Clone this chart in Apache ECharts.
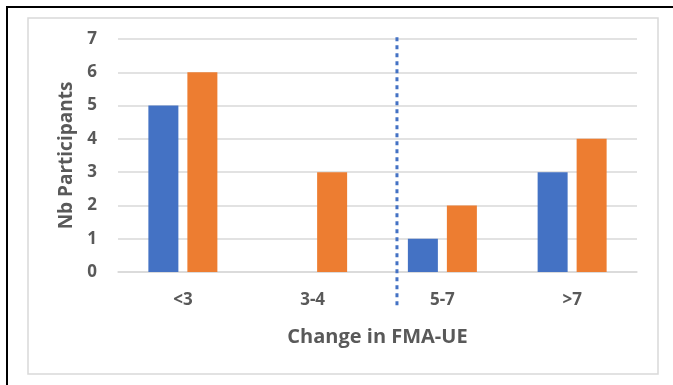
<!DOCTYPE html>
<html>
<head>
<meta charset="utf-8">
<script src="https://cdn.jsdelivr.net/npm/echarts@6/dist/echarts.min.js"></script>
<style>
  html, body { margin: 0; padding: 0; background: #fff; }
  #chart { width: 673px; height: 385px; }
</style>
</head>
<body>
<div id="chart"></div>
<script>
// Change in FMA-UE categories and participant counts
const categories = ['<3', '3-4', '5-7', '>7'];
const seriesA = [5, 0, 1, 3];
const seriesB = [6, 3, 2, 4];
const yTicks = { min: 0, max: 7, interval: 1 };
// Vertical dotted separator, in category-position units (0..4 across the axis)
const separatorX = 2.15;
const separatorY = [-1, 7.1];

const font = '"Open Sans", "Liberation Sans", sans-serif';
const textGrey = '#595959';

const chart = echarts.init(document.getElementById('chart'), null, { renderer: 'canvas' });
chart.setOption({
  backgroundColor: '#ffffff',
  animation: false,
  graphic: [
    { type: 'rect', shape: { x: 7, y: 7, width: 720, height: 420 },
      style: { fill: 'none', stroke: '#000', lineWidth: 2 }, silent: true },
    { type: 'rect', shape: { x: 28, y: 18, width: 630, height: 356 },
      style: { fill: 'none', stroke: '#d9d9d9', lineWidth: 1.5 }, silent: true }
  ],
  grid: { left: 118, right: 36, top: 39, bottom: 113 },
  xAxis: [
    {
      type: 'category',
      data: categories,
      axisTick: { show: false },
      axisLine: { lineStyle: { color: '#d9d9d9', width: 1.5 } },
      axisLabel: { color: textGrey, fontFamily: font, fontWeight: 'bold', fontSize: 17, margin: 20 },
      name: 'Change in FMA-UE',
      nameLocation: 'middle',
      nameGap: 55,
      nameTextStyle: { color: textGrey, fontFamily: font, fontWeight: 'bold', fontSize: 20 }
    },
    { type: 'value', min: 0, max: 4, show: false }
  ],
  yAxis: {
    type: 'value',
    min: yTicks.min, max: yTicks.max, interval: yTicks.interval,
    axisLine: { show: false },
    axisTick: { show: false },
    splitLine: { lineStyle: { color: '#d9d9d9', width: 1.5 } },
    axisLabel: { color: textGrey, fontFamily: font, fontWeight: 'bold', fontSize: 17, margin: 21 },
    name: 'Nb Participants',
    nameLocation: 'middle',
    nameGap: 42,
    nameRotate: 90,
    nameTextStyle: { color: textGrey, fontFamily: font, fontWeight: 'bold', fontSize: 19 }
  },
  series: [
    {
      type: 'bar', data: seriesA, barWidth: 30, barGap: '30%',
      itemStyle: { color: '#4472C4' }
    },
    {
      type: 'bar', data: seriesB, barWidth: 30, barGap: '30%',
      itemStyle: { color: '#ED7D31' }
    },
    {
      type: 'line',
      xAxisIndex: 1,
      clip: false,
      symbol: 'none',
      data: separatorY.map(v => [separatorX, v]),
      lineStyle: { color: '#4472C4', width: 3, type: [4, 4], cap: 'butt' },
      z: 5
    }
  ]
});
</script>
</body>
</html>
